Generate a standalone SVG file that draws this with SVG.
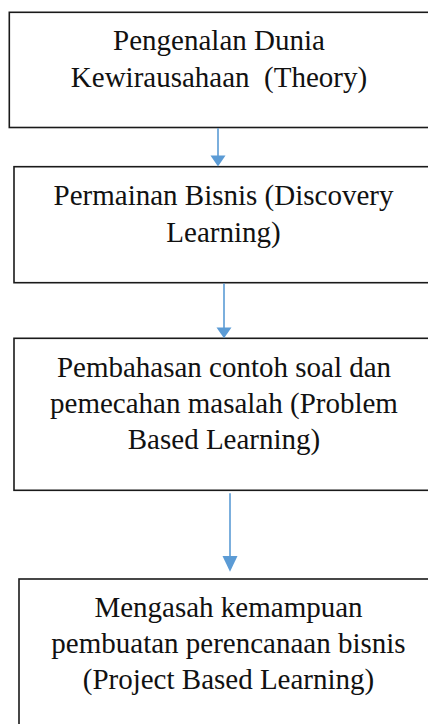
<svg xmlns="http://www.w3.org/2000/svg" width="428" height="724" viewBox="0 0 428 724">
<style>
.box{fill:#fff;stroke:#1a1a1a;stroke-width:1.6}
.t{font-family:"Liberation Serif","Times New Roman",serif;font-size:29px;fill:#111;text-anchor:middle}
.c{stroke:#5B9BD5;stroke-width:1.6;fill:none}
.h{fill:#5B9BD5}
</style>
<rect x="0" y="0" width="428" height="724" fill="#fff"/>
<g id="node1">
<rect class="box" x="9.3" y="12.3" width="430" height="115.2"/>
<text class="t" x="219" y="50">Pengenalan Dunia</text>
<text class="t" x="219" y="87" xml:space="preserve">Kewirausahaan  (Theory)</text>
</g>
<g id="node2">
<rect class="box" x="14" y="166.7" width="430" height="116"/>
<text class="t" x="223.5" y="205">Permainan Bisnis (Discovery</text>
<text class="t" x="223.5" y="241.7">Learning)</text>
</g>
<g id="node3">
<rect class="box" x="14" y="338.3" width="430" height="152"/>
<text class="t" x="224" y="377">Pembahasan contoh soal dan</text>
<text class="t" x="224" y="413">pemecahan masalah (Problem</text>
<text class="t" x="224" y="449">Based Learning)</text>
</g>
<g id="node4">
<rect class="box" x="19" y="579" width="430" height="160"/>
<text class="t" x="228.5" y="616.7">Mengasah kemampuan</text>
<text class="t" x="228.5" y="652.7">pembuatan perencanaan bisnis</text>
<text class="t" x="228.5" y="689">(Project Based Learning)</text>
</g>
<g id="connectors">
<line class="c" x1="218" y1="128.3" x2="218" y2="157"/>
<polygon class="h" points="210.5,155.5 225.5,155.5 218,166.5"/>
<line class="c" x1="224" y1="283.5" x2="224" y2="329"/>
<polygon class="h" points="216.5,327.5 231.5,327.5 224,338.3"/>
<line class="c" x1="230" y1="493.3" x2="230" y2="557"/>
<polygon class="h" points="222.5,556 237.5,556 230,571.7"/>
</g>
</svg>
